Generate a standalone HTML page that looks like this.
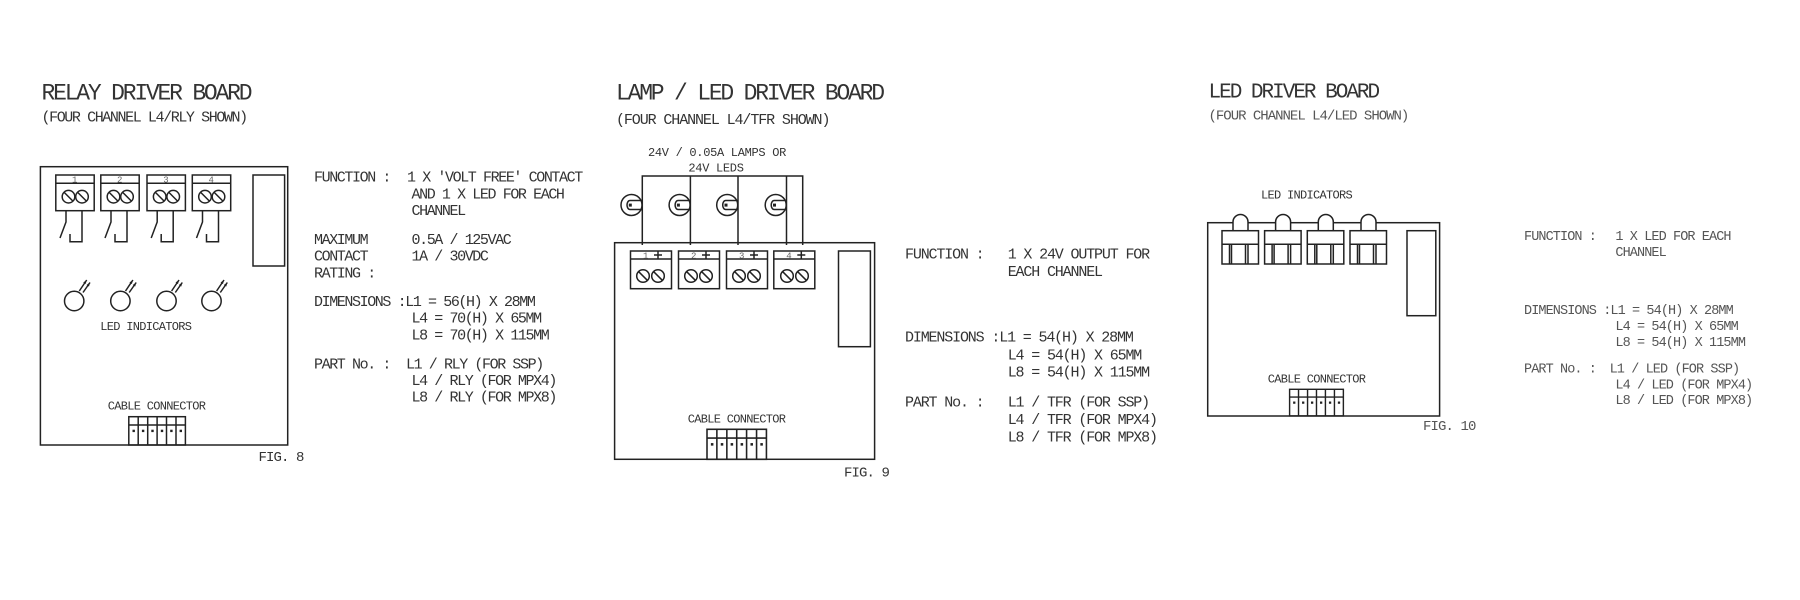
<!DOCTYPE html>
<html><head><meta charset="utf-8"><style>
html,body{margin:0;padding:0;background:#fff;}
svg{display:block;}
text{font-family:"Liberation Mono",monospace;fill:#333;}
.t1{font-size:23px;letter-spacing:-2.2px;}
.t1b{font-size:21px;letter-spacing:-2px;}
.st{font-size:15px;letter-spacing:-1.4px;}
.st9{font-size:15px;letter-spacing:-1.1px;}
.st10{font-size:14px;letter-spacing:-1px;fill:#555;}
.b8{font-size:15px;letter-spacing:-1.4px;}
.b9{font-size:15px;letter-spacing:-1.15px;}
.b10{font-size:13.5px;letter-spacing:-0.9px;fill:#555;}
.sm{font-size:12px;letter-spacing:-0.7px;}
.sm9{font-size:12px;letter-spacing:-0.3px;}
.fig{font-size:14px;letter-spacing:-0.9px;}
.tiny{font-size:9px;fill:#666;}
.ln{stroke:#222;stroke-width:1.5;fill:none;}
</style></head><body>
<svg width="1800" height="600" viewBox="0 0 1800 600" xmlns="http://www.w3.org/2000/svg">
<defs>
<g id="screw"><circle r="6.3" fill="#fff" stroke="#222" stroke-width="1.5"/><line x1="-4.3" y1="-4.3" x2="4.3" y2="4.3" stroke="#222" stroke-width="1.5"/></g>
<g id="conn8">
<rect x="0" y="0" width="56.6" height="28.3" class="ln"/>
<line x1="0" y1="8.3" x2="56.6" y2="8.3" class="ln"/>
<line x1="9.4" y1="0" x2="9.4" y2="28.3" class="ln"/><line x1="18.9" y1="0" x2="18.9" y2="28.3" class="ln"/><line x1="28.3" y1="0" x2="28.3" y2="28.3" class="ln"/><line x1="37.7" y1="0" x2="37.7" y2="28.3" class="ln"/><line x1="47.2" y1="0" x2="47.2" y2="28.3" class="ln"/>
<rect x="3.7" y="13" width="2.4" height="2.4" fill="#222"/><rect x="13.1" y="13" width="2.4" height="2.4" fill="#222"/><rect x="22.5" y="13" width="2.4" height="2.4" fill="#222"/><rect x="32" y="13" width="2.4" height="2.4" fill="#222"/><rect x="41.4" y="13" width="2.4" height="2.4" fill="#222"/><rect x="50.8" y="13" width="2.4" height="2.4" fill="#222"/>
</g>
</defs>

<!-- FIG 8 -->
<text class="t1" x="41.5" y="99.3">RELAY DRIVER BOARD</text>
<text class="st" x="41.5" y="121.7">(FOUR CHANNEL L4/RLY SHOWN)</text>
<rect x="40.4" y="166.7" width="247.3" height="278.3" class="ln"/>
<g>
<rect x="55.8" y="175" width="38.4" height="35.7" class="ln"/><line x1="55.8" y1="183.3" x2="94.2" y2="183.3" class="ln"/><text class="tiny" x="72" y="182.5">1</text>
<use href="#screw" x="68.5" y="196.7"/><use href="#screw" x="82" y="196.7"/>
<rect x="100.8" y="175" width="38.4" height="35.7" class="ln"/><line x1="100.8" y1="183.3" x2="139.2" y2="183.3" class="ln"/><text class="tiny" x="117" y="182.5">2</text>
<use href="#screw" x="113.5" y="196.7"/><use href="#screw" x="127" y="196.7"/>
<rect x="147" y="175" width="38.4" height="35.7" class="ln"/><line x1="147" y1="183.3" x2="185.4" y2="183.3" class="ln"/><text class="tiny" x="163.2" y="182.5">3</text>
<use href="#screw" x="159.7" y="196.7"/><use href="#screw" x="173.2" y="196.7"/>
<rect x="192.3" y="175" width="38.4" height="35.7" class="ln"/><line x1="192.3" y1="183.3" x2="230.7" y2="183.3" class="ln"/><text class="tiny" x="208.5" y="182.5">4</text>
<use href="#screw" x="205" y="196.7"/><use href="#screw" x="218.5" y="196.7"/>
</g>
<g class="ln">
<path d="M66 210.7V222 L60 238"/><path d="M82 210.7V241.7H70V234"/>
<path d="M111 210.7V222 L105 238"/><path d="M127 210.7V241.7H115V234"/>
<path d="M157.2 210.7V222 L151.2 238"/><path d="M173.2 210.7V241.7H161.2V234"/>
<path d="M202.5 210.7V222 L196.5 238"/><path d="M218.5 210.7V241.7H206.5V234"/>
</g>
<rect x="253" y="175" width="31.6" height="91" class="ln"/>
<g id="led8">
<circle cx="74.2" cy="301" r="9.7" class="ln"/>
<path d="M79.3 291L86.7 280M83 292.5L90 282.5" class="ln" stroke-width="1.2"/>
<path d="M86.7 280l-3.5 2.5l2.5 1.5zM90 282.5l-3.5 2.5l2.5 1.5z" fill="#222"/>
</g>
<use href="#led8" x="46.2"/><use href="#led8" x="92.3"/><use href="#led8" x="137.3"/>
<text class="sm" x="145.8" y="330" text-anchor="middle">LED INDICATORS</text>
<text class="sm" x="156.5" y="409.3" text-anchor="middle">CABLE CONNECTOR</text>
<use href="#conn8" x="128.8" y="416.7"/>
<text class="fig" x="258.5" y="461">FIG. 8</text>
<text class="b8" x="314" y="181.7">FUNCTION :</text><text class="b8" x="407" y="181.7">1 X 'VOLT FREE' CONTACT</text>
<text class="b8" x="411.5" y="198.3">AND 1 X LED FOR EACH</text>
<text class="b8" x="411.5" y="215">CHANNEL</text>
<text class="b8" x="314" y="244">MAXIMUM</text><text class="b8" x="411.5" y="244">0.5A / 125VAC</text>
<text class="b8" x="314" y="260.7">CONTACT</text><text class="b8" x="411.5" y="260.7">1A / 30VDC</text>
<text class="b8" x="314" y="277.3">RATING :</text>
<text class="b8" x="314" y="306">DIMENSIONS :L1 = 56(H) X 28MM</text>
<text class="b8" x="411.5" y="322.7">L4 = 70(H) X 65MM</text>
<text class="b8" x="411.5" y="339.3">L8 = 70(H) X 115MM</text>
<text class="b8" x="314" y="368.3">PART No. :</text><text class="b8" x="406" y="368.3">L1 / RLY (FOR SSP)</text>
<text class="b8" x="411.5" y="385">L4 / RLY (FOR MPX4)</text>
<text class="b8" x="411.5" y="401.7">L8 / RLY (FOR MPX8)</text>

<!-- FIG 9 -->
<text class="t1" x="616" y="99.3">LAMP / LED DRIVER BOARD</text>
<text class="st9" x="616" y="124">(FOUR CHANNEL L4/TFR SHOWN)</text>
<text class="sm9" x="717" y="156" text-anchor="middle">24V / 0.05A LAMPS OR</text>
<text class="sm9" x="716" y="171.7" text-anchor="middle">24V LEDS</text>
<path d="M642.3 245V176H802.7V245M690.4 176V245M738 176V245M786.5 176V245" class="ln"/>
<g id="lamp">
<circle cx="631.5" cy="205" r="10.5" class="ln"/>
<path d="M642.3 200.5H630a3 4.5 0 0 0 0 9H642.3" class="ln" stroke-width="1.3"/>
<rect x="628.8" y="203.6" width="3" height="3" fill="#222"/>
</g>
<use href="#lamp" x="48.1"/><use href="#lamp" x="95.7"/><use href="#lamp" x="144.2"/>
<rect x="614.6" y="242.7" width="260" height="216.6" class="ln"/>
<g id="blk9">
<rect x="630.5" y="251" width="41" height="37.7" class="ln"/><line x1="630.5" y1="259" x2="671.5" y2="259" class="ln"/>
<text class="tiny" x="643" y="258.3">1</text>
<path d="M654 255h8M658 251.5v7" class="ln" stroke-width="1.3"/>
<use href="#screw" x="643" y="276"/><use href="#screw" x="658" y="276"/>
</g>
<g><rect x="678.5" y="251" width="41" height="37.7" class="ln"/><line x1="678.5" y1="259" x2="719.5" y2="259" class="ln"/><text class="tiny" x="691" y="258.3">2</text><path d="M702 255h8M706 251.5v7" class="ln" stroke-width="1.3"/><use href="#screw" x="691" y="276"/><use href="#screw" x="706" y="276"/></g>
<g><rect x="726.5" y="251" width="41" height="37.7" class="ln"/><line x1="726.5" y1="259" x2="767.5" y2="259" class="ln"/><text class="tiny" x="739" y="258.3">3</text><path d="M750 255h8M754 251.5v7" class="ln" stroke-width="1.3"/><use href="#screw" x="739" y="276"/><use href="#screw" x="754" y="276"/></g>
<g><rect x="773.8" y="251" width="41" height="37.7" class="ln"/><line x1="773.8" y1="259" x2="814.8" y2="259" class="ln"/><text class="tiny" x="786.3" y="258.3">4</text><path d="M797.3 255h8M801.3 251.5v7" class="ln" stroke-width="1.3"/><use href="#screw" x="787" y="276"/><use href="#screw" x="802" y="276"/></g>
<rect x="838.5" y="251" width="31.9" height="95.7" class="ln"/>
<text class="sm" x="736.5" y="422.7" text-anchor="middle">CABLE CONNECTOR</text>
<g transform="translate(707,429.3) scale(1.05,1.06)"><use href="#conn8"/></g>
<text class="fig" x="844" y="476.7">FIG. 9</text>
<text class="b9" x="905" y="258.3">FUNCTION :</text><text class="b9" x="1007.7" y="258.3">1 X 24V OUTPUT FOR</text>
<text class="b9" x="1007.7" y="276">EACH CHANNEL</text>
<text class="b9" x="905" y="341.7">DIMENSIONS :L1 = 54(H) X 28MM</text>
<text class="b9" x="1007.7" y="359.3">L4 = 54(H) X 65MM</text>
<text class="b9" x="1007.7" y="376.7">L8 = 54(H) X 115MM</text>
<text class="b9" x="905" y="406.7">PART No. :</text><text class="b9" x="1007.7" y="406.7">L1 / TFR (FOR SSP)</text>
<text class="b9" x="1007.7" y="424">L4 / TFR (FOR MPX4)</text>
<text class="b9" x="1007.7" y="441.7">L8 / TFR (FOR MPX8)</text>

<!-- FIG 10 -->
<text class="t1b" x="1208.5" y="97.3">LED DRIVER BOARD</text>
<text class="st10" x="1208.5" y="119.3">(FOUR CHANNEL L4/LED SHOWN)</text>
<text class="sm" x="1306.5" y="198.3" text-anchor="middle">LED INDICATORS</text>
<rect x="1207.7" y="222.7" width="231.9" height="193.3" class="ln"/>
<g id="ledblk">
<path d="M1233 230.7V222a7.5 7.5 0 0 1 15 0V230.7" fill="#fff" stroke="#222" stroke-width="1.5"/>
<rect x="1222" y="230.7" width="36.5" height="33.3" fill="#fff" stroke="#222" stroke-width="1.5"/>
<line x1="1222" y1="244.3" x2="1258.5" y2="244.3" class="ln"/>
<path d="M1229.5 244.3V264M1231.5 244.3V264M1245.5 244.3V264M1248 244.3V264" class="ln" stroke-width="1.5"/>
</g>
<use href="#ledblk" x="42.6"/><use href="#ledblk" x="85.3"/><use href="#ledblk" x="128"/>
<rect x="1407" y="230.7" width="28.8" height="85" class="ln"/>
<text class="sm" x="1316.5" y="382.7" text-anchor="middle">CABLE CONNECTOR</text>
<g transform="translate(1289.6,389.3) scale(0.95,0.94)"><use href="#conn8"/></g>
<text class="fig" x="1423" y="430" style="fill:#555">FIG. 10</text>
<text class="b10" x="1524" y="240">FUNCTION :</text><text class="b10" x="1615.4" y="240">1 X LED FOR EACH</text>
<text class="b10" x="1615.4" y="256">CHANNEL</text>
<text class="b10" x="1524" y="314">DIMENSIONS :L1 = 54(H) X 28MM</text>
<text class="b10" x="1615.4" y="330">L4 = 54(H) X 65MM</text>
<text class="b10" x="1615.4" y="346">L8 = 54(H) X 115MM</text>
<text class="b10" x="1524" y="372.7">PART No. :</text><text class="b10" x="1609.6" y="372.7">L1 / LED (FOR SSP)</text>
<text class="b10" x="1615.4" y="388.3">L4 / LED (FOR MPX4)</text>
<text class="b10" x="1615.4" y="404">L8 / LED (FOR MPX8)</text>
</svg>
</body></html>
